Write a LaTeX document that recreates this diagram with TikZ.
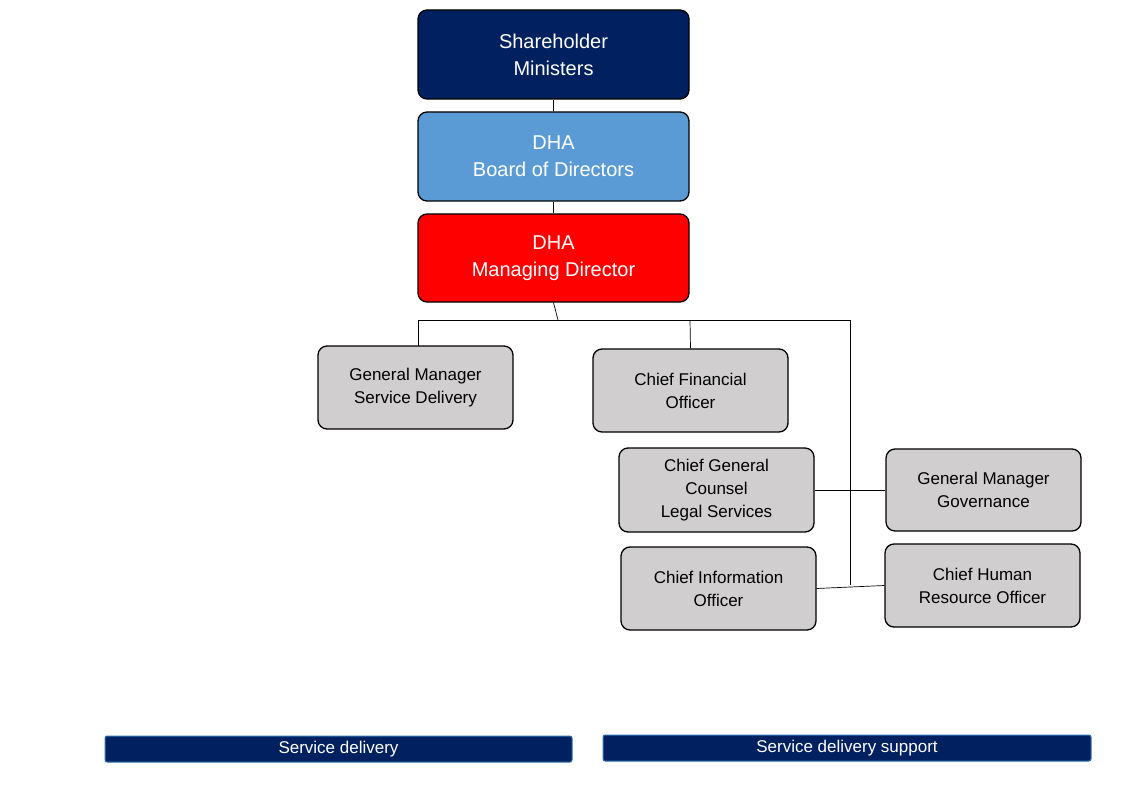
\documentclass[tikz,border=0pt]{standalone}
\usepackage{fontspec}
\setmainfont{Liberation Sans}
\begin{document}
\begin{tikzpicture}[x=1pt,y=-1pt,
 big/.style={draw=black,line width=1.3pt,rounded corners=9pt,align=center,text=white,font=\fontsize{20}{27}\selectfont,inner sep=0pt},
 box/.style={draw=black,line width=1.3pt,rounded corners=9pt,align=center,fill=boxgray,font=\fontsize{17}{23}\selectfont,inner sep=0pt,minimum width=195pt,minimum height=83pt},
 bar/.style={draw=barblue,line width=1pt,rounded corners=2pt,fill=navy,text=white,font=\fontsize{17}{20}\selectfont,inner sep=0pt,minimum height=26pt},
 ln/.style={draw=black,line width=0.7pt}]
\definecolor{navy}{HTML}{002060}
\definecolor{lblue}{HTML}{5B9BD5}
\definecolor{boxgray}{HTML}{D0CECE}
\definecolor{barblue}{HTML}{2E75B6}
\useasboundingbox (0,0) rectangle (1145,794);
\node[big,fill=navy,minimum width=271pt,minimum height=89pt] (sh) at (553.5,54.5) {Shareholder\\Ministers};
\node[big,fill=lblue,minimum width=271pt,minimum height=89pt] (bd) at (553.5,156.5) {DHA\\Board of Directors};
\node[big,fill=red,minimum width=271pt,minimum height=88pt] (md) at (553.5,258) {DHA\\Managing Director};
\node[box] (gsd) at (415.5,387.5) {General Manager\\Service Delivery};
\node[box] (cfo) at (690.5,390.5) {Chief Financial\\Officer};
\node[box,minimum height=84pt] (cgc) at (716.5,490) {Chief General\\Counsel\\Legal Services};
\node[box,minimum height=82pt] (gov) at (983.5,490) {General Manager\\Governance};
\node[box] (cio) at (718.5,588.5) {Chief Information\\Officer};
\node[box] (hr) at (982.5,585.5) {Chief Human\\Resource Officer};
\node[bar,minimum width=467pt] (sd) at (338.5,749) {Service delivery};
\node[bar,minimum width=488pt] (sds) at (847,748) {Service delivery support};
\coordinate (j) at (558,320);
\coordinate (r) at (850,320);
\coordinate (rb) at (850,585);
\draw[ln] (sh.south) -- (bd.north);
\draw[ln] (bd.south) -- (md.north);
\draw[ln] (md.south) -- (j);
\draw[ln] (418,320) -- (r) -- (rb);
\draw[ln] (418,320) -- (418,346);
\draw[ln] (690,320) -- (cfo.north);
\draw[ln] (cgc.east) -- (gov.west);
\draw[ln] (cio.east) -- (hr.west);
\end{tikzpicture}
\end{document}
